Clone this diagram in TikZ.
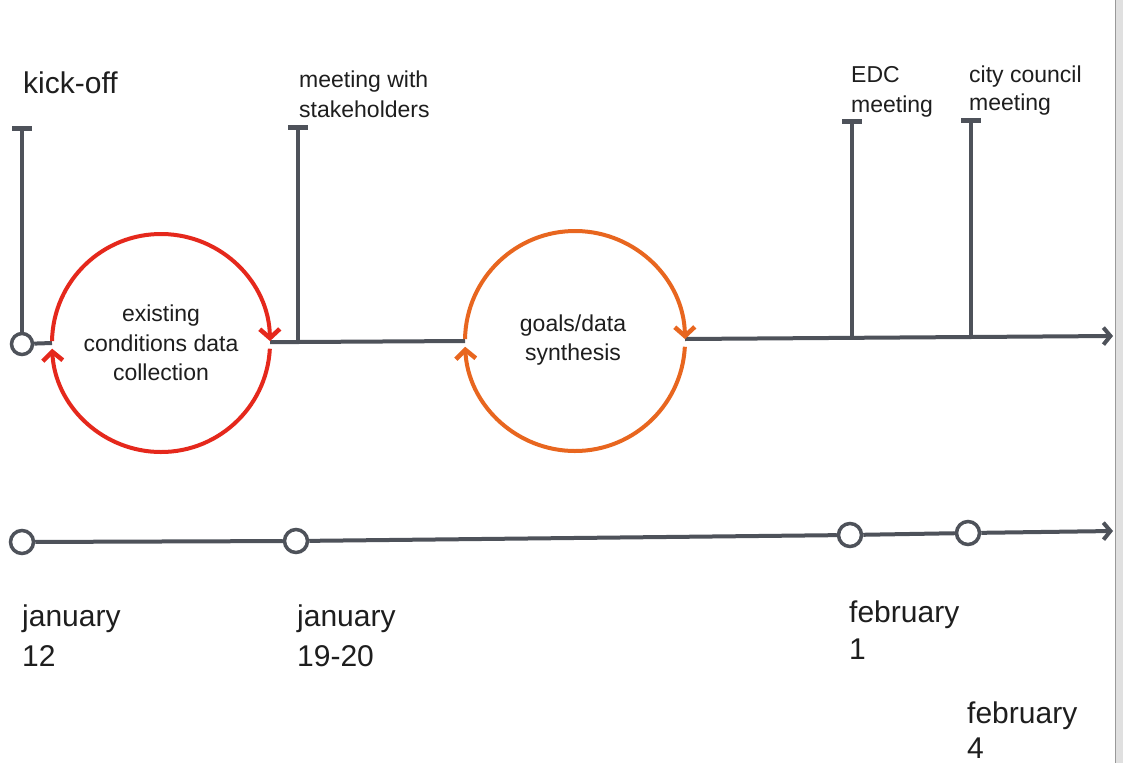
\documentclass[tikz,border=0pt]{standalone}
\usepackage{fontspec}
\setmainfont{Liberation Sans}
\usetikzlibrary{arrows.meta}
\definecolor{tline}{HTML}{4E525A}
\definecolor{cred}{HTML}{E5281C}
\definecolor{corange}{HTML}{E8661F}
\definecolor{ink}{HTML}{1E1E1E}
\tikzset{
  tl/.style={draw=tline, line width=4pt},
  tcap/.style={draw=tline, line width=5pt},
  dot/.style={circle, draw=tline, fill=white, line width=3.5pt, inner sep=0pt},
  ring/.style={line width=4pt, arrows={-Straight Barb[length=9pt,width=20pt,line width=4.5pt]}},
  etip/.style={arrows={-Straight Barb[length=7pt,width=17pt]}},
  big/.style={font=\fontsize{30}{37}\selectfont, inner sep=0pt, anchor=base west, text=ink},
  mid/.style={font=\fontsize{23}{29.5}\selectfont, inner sep=0pt, anchor=base west, text=ink},
  ctext/.style={font=\fontsize{23}{29.5}\selectfont, align=center, inner sep=0pt, text=ink}
}
\begin{document}
\begin{tikzpicture}[x=1pt,y=-1pt]
\useasboundingbox (0,0) rectangle (1123,763);
\fill[white] (0,0) rectangle (1123,763);
% page edge strip
\fill[black!12] (1115,0) rectangle (1123,763);
\draw[black!40, line width=1pt] (1115,0) -- (1115,763);

% ---------- top timeline coordinates ----------
\coordinate (c1) at (161,343);
\coordinate (c2) at (575,341);
\coordinate (c1w) at (52,343);
\coordinate (c1e) at (270,342);
\coordinate (c2w) at (465,341);
\coordinate (c2e) at (685,339);
\coordinate (sj) at (298,342);
\coordinate (ej) at (852,338);
\coordinate (cj) at (971,337);
\coordinate (tend) at (1113,336);
\coordinate (kt) at (22,128);
\coordinate (st) at (298,127);
\coordinate (et) at (852,121);
\coordinate (ct) at (971,120);

% vertical markers with T caps
\draw[tl] (st) -- (sj);
\draw[tl] (et) -- (ej);
\draw[tl] (ct) -- (cj);
\draw[tcap] ([xshift=-10pt]kt) -- ([xshift=10pt]kt);
\draw[tcap] ([xshift=-10pt]st) -- ([xshift=10pt]st);
\draw[tcap] ([xshift=-10pt]et) -- ([xshift=10pt]et);
\draw[tcap] ([xshift=-10pt]ct) -- ([xshift=10pt]ct);

% kick-off dot
\node[dot, minimum size=21pt] (k0) at (22,344) {};
\draw[tl] (kt) -- (k0);
\draw[tl] (k0) -- (c1w);

% horizontal segments
\draw[tl] (c1e) -- (sj) -- (c2w);
\draw[tl, etip] (c2e) -- (tend);

% cycle circles
\draw[ring, draw=cred] (c1) ++(181:109) arc[start angle=181, end angle=359, radius=109];
\draw[ring, draw=cred] (c1) ++(3:109) arc[start angle=3, end angle=177, radius=109];
\draw[ring, draw=corange] (c2) ++(181:110) arc[start angle=181, end angle=359, radius=110];
\draw[ring, draw=corange] (c2) ++(3:110) arc[start angle=3, end angle=177, radius=110];

\node[ctext] (t1) at (161,343) {existing\\conditions data\\collection};
\node[ctext] (t2) at (573,340) {goals/data\\synthesis};

% top labels
\node[big] (lk) at (23,93) {kick-off};
\node[mid] (ls1) at (299,87) {meeting with};
\node[mid] (ls2) at (299,117) {stakeholders};
\node[mid] (le1) at (851,82) {EDC};
\node[mid] (le2) at (851,112) {meeting};
\node[mid] (lc1) at (969,82) {city council};
\node[mid] (lc2) at (969,110) {meeting};

% ---------- bottom timeline ----------
\node[dot, minimum size=23pt] (b1) at (22,542) {};
\node[dot, minimum size=23pt] (b2) at (296,541) {};
\node[dot, minimum size=23pt] (b3) at (850,535) {};
\node[dot, minimum size=23pt] (b4) at (968,533) {};
\coordinate (bend) at (1113,531);
\draw[tl] (b1) -- (b2);
\draw[tl] (b2) -- (b3);
\draw[tl] (b3) -- (b4);
\draw[tl, etip] (b4) -- (bend);

% dates
\node[big] (d1a) at (22,626) {january};
\node[big] (d1b) at (22,666) {12};
\node[big] (d2a) at (297,626) {january};
\node[big] (d2b) at (297,666) {19-20};
\node[big] (d3a) at (849,622) {february};
\node[big] (d3b) at (849,659) {1};
\node[big] (d4a) at (967,723) {february};
\node[big] (d4b) at (967,758) {4};
\end{tikzpicture}
\end{document}
